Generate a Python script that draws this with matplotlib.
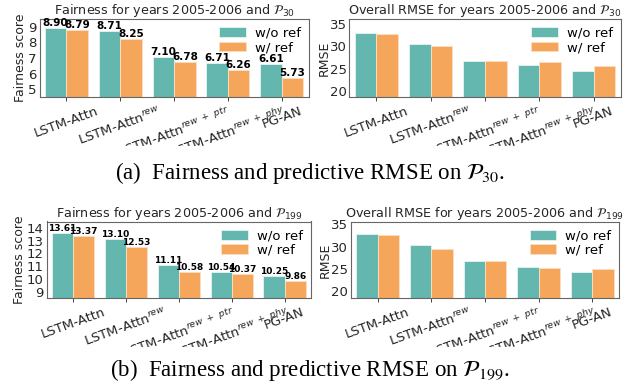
import matplotlib
matplotlib.use('agg')
import matplotlib.pyplot as plt
from matplotlib.patches import Rectangle
import numpy as np

models = ['LSTM-Attn', 'LSTM-Attn$^{rew}$', 'LSTM-Attn$^{rew\\ +\\ ptr}$',
          'LSTM-Attn$^{rew\\ +\\ phy}$', 'PG-AN']
series_names = ['w/o ref', 'w/ ref']

fair30_wo = [8.90, 8.71, 7.10, 6.71, 6.61]
fair30_w = [8.79, 8.25, 6.78, 6.26, 5.73]
rmse30_wo = [32.9, 30.6, 26.8, 25.8, 24.5]
rmse30_w = [32.7, 30.1, 26.7, 26.4, 25.5]

fair199_wo = [13.61, 13.10, 11.11, 10.54, 10.25]
fair199_w = [13.37, 12.53, 10.58, 10.37, 9.86]
rmse199_wo = [32.8, 30.4, 26.7, 25.5, 24.3]
rmse199_w = [32.6, 29.4, 26.7, 25.1, 24.9]

teal = '#63b7af'
orange = '#f5a65b'

W, H = 639, 392
fig = plt.figure(figsize=(W / 100, H / 100), dpi=100)


def px_axes(x0, y0, x1, y1):
    return fig.add_axes([x0 / W, 1 - y1 / H, (x1 - x0) / W, (y1 - y0) / H])


def draw(ax, wo, w, title, ylabel, ylim, yticks, ylab_x, labels=False, lab_size=7):
    x = np.arange(len(models))
    b1 = ax.bar(x - 0.2, wo, width=0.4, color=teal, edgecolor='#e8f4f2',
                linewidth=0.6, label=series_names[0])
    b2 = ax.bar(x + 0.2, w, width=0.4, color=orange, edgecolor='#fbe0c4',
                linewidth=0.6, label=series_names[1])
    if labels:
        for bars in (b1, b2):
            ax.bar_label(bars, fmt='%.2f', fontsize=lab_size, fontweight='bold',
                         padding=0)
    ax.set_xlim(-0.5, len(models) - 0.5)
    ax.set_ylim(*ylim)
    ax.set_yticks(yticks)
    ax.set_xticks(x)
    ax.set_xticklabels(models, rotation=20, fontsize=9.5)
    ax.tick_params(axis='y', labelsize=9.5, length=0, pad=2, colors='0.15')
    ax.tick_params(axis='x', length=3, width=0.6, colors='0.15', pad=2)
    ax.set_title(title, fontsize=9.2, pad=3, color='0.15')
    ax.set_ylabel(ylabel, fontsize=9, color='0.15')
    ax.yaxis.set_label_coords(ylab_x, 0.5)
    for s in ax.spines.values():
        s.set_color('0.4')
        s.set_linewidth(0.8)
    ax.legend(loc='upper right', frameon=False, fontsize=9.5,
              handlelength=2.0, handleheight=0.75, borderaxespad=0.2,
              labelspacing=0.1, handletextpad=0.7)


ax1 = px_axes(39.5, 19, 308.7, 97.3)
draw(ax1, fair30_wo, fair30_w, 'Fairness for years 2005-2006 and $\\mathcal{P}_{30}$',
     'Fairness score', (4.5, 9.5), [5, 6, 7, 8, 9], -0.046,
     labels=True, lab_size=7.5)
ax2 = px_axes(349.3, 19, 620.7, 97.3)
draw(ax2, rmse30_wo, rmse30_w, 'Overall RMSE for years 2005-2006 and $\\mathcal{P}_{30}$',
     'RMSE', (18.6, 36.1), [20, 25, 30, 35], -0.069)
ax3 = px_axes(46.7, 221.5, 311, 298.3)
draw(ax3, fair199_wo, fair199_w, 'Fairness for years 2005-2006 and $\\mathcal{P}_{199}$',
     'Fairness score', (8.5, 14.5), [9, 10, 11, 12, 13, 14], -0.078,
     labels=True, lab_size=6.5)
ax4 = px_axes(350.7, 221.5, 619.3, 298.3)
draw(ax4, rmse199_wo, rmse199_w, 'Overall RMSE for years 2005-2006 and $\\mathcal{P}_{199}$',
     'RMSE', (18.4, 35.6), [20, 25, 30, 35], -0.07)

# cut the rotated tick labels like the cropped subfigures
for y0, y1 in [(146, 200), (347, 392)]:
    fig.add_artist(Rectangle((0, 1 - y1 / H), 1, (y1 - y0) / H,
                             transform=fig.transFigure, facecolor='white',
                             edgecolor='none', zorder=10))

cap_kw = dict(ha='center', va='baseline', fontsize=16.5, family='Liberation Serif',
              math_fontfamily='stix', zorder=11)
fig.text(310 / W, 1 - 179 / H, '(a)  Fairness and predictive RMSE on $\\mathcal{P}_{30}$.', **cap_kw)
fig.text(310 / W, 1 - 376 / H, '(b)  Fairness and predictive RMSE on $\\mathcal{P}_{199}$.', **cap_kw)

fig.savefig('out.png', dpi=100)
